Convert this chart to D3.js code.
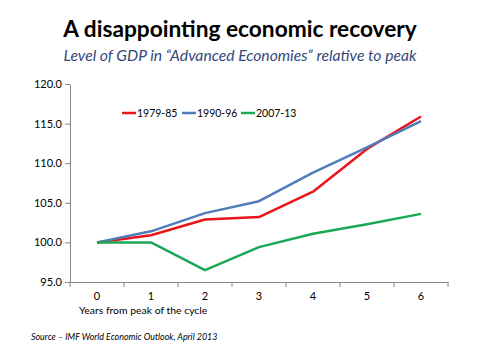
<!DOCTYPE html>
<html><head><meta charset="utf-8">
<script src="https://cdn.jsdelivr.net/npm/d3@7"></script>
<style>
body{margin:0;background:#fff;}
svg{display:block;}
text{font-family:Lato,"Open Sans",sans-serif;}
</style></head>
<body>
<svg id="c" width="480" height="360"></svg>
<script>
const years = [0,1,2,3,4,5,6];
const series79 = [100.0,100.9,102.9,103.2,106.4,111.8,115.9];
const series90 = [100.0,101.4,103.7,105.2,108.8,112.0,115.3];
const series07 = [100.0,100.0,96.5,99.4,101.1,102.3,103.6];
const seriesNames = ["1979-85","1990-96","2007-13"];
const seriesColors = ["#E8151B","#4F7DB8","#1BA856"];
const yTicks = [95,100,105,110,115,120];

(function(){
const svg = d3.select("#c");
const pL=70, pR=448, pT=84, pB=282;

const x = d3.scaleBand().domain(years).range([pL,pR]);
const y = d3.scaleLinear().domain([95,120]).range([pB,pT]);

// title
svg.append("text").attr("x",240).attr("y",37).attr("text-anchor","middle")
  .attr("font-size",22.7).attr("font-weight","bold").attr("fill","#000")
  .text("A disappointing economic recovery");
svg.append("text").attr("x",240).attr("y",61).attr("text-anchor","middle")
  .attr("font-size",15.7).attr("font-style","italic").attr("fill","#34497A")
  .text("Level of GDP in “Advanced Economies” relative to peak");

// y axis
const yAxis = d3.axisLeft(y).tickValues(yTicks).tickFormat(d3.format(".1f")).tickSize(5).tickSizeOuter(0);
const gy = svg.append("g").attr("transform",`translate(${pL},0)`).call(yAxis);
gy.select(".domain").attr("stroke","#868686");
gy.selectAll(".tick line").attr("stroke","#868686");
gy.selectAll(".tick text").attr("font-size",11).attr("fill","#000").attr("x",-8).attr("font-family","Lato,sans-serif");

// x axis
const xAxis = d3.axisBottom(x).tickSize(0).tickSizeOuter(0).tickPadding(10);
const gx = svg.append("g").attr("transform",`translate(0,${pB})`).call(xAxis);
gx.select(".domain").attr("stroke","#868686");
gx.selectAll(".tick text").attr("font-size",11).attr("fill","#000").attr("font-family","Lato,sans-serif");
const bounds = years.map(d=>x(d)).concat([x(years[years.length-1])+x.bandwidth()]);
gx.selectAll("line.bt").data(bounds).enter().append("line").attr("class","bt")
  .attr("x1",d=>d).attr("x2",d=>d).attr("y1",0).attr("y2",5).attr("stroke","#868686");

svg.append("text").attr("x",79).attr("y",314).attr("font-size",10.4).attr("fill","#000")
  .text("Years from peak of the cycle");

svg.append("text").attr("x",31).attr("y",340).attr("font-size",8.9).attr("font-style","italic").attr("fill","#000")
  .text("Source – IMF World Economic Outlook, April 2013");

// lines
const data = [series79, series90, series07];
const line = d3.line().x((d,i)=>x(years[i])+x.bandwidth()/2).y(d=>y(d));
svg.selectAll("path.s").data(data).enter().append("path").attr("class","s")
  .attr("d",line).attr("fill","none").attr("stroke",(d,i)=>seriesColors[i])
  .attr("stroke-width",2.5).attr("stroke-linejoin","round");

// legend
const legX = [122,182,241];
const lg = svg.selectAll("g.leg").data(seriesNames).enter().append("g").attr("class","leg")
  .attr("transform",(d,i)=>`translate(${legX[i]},113)`);
lg.append("line").attr("x1",0).attr("x2",14).attr("y1",0).attr("y2",0)
  .attr("stroke",(d,i)=>seriesColors[i]).attr("stroke-width",2.5);
lg.append("text").attr("x",15).attr("y",4).attr("font-size",10.5).attr("fill","#000").text(d=>d);
})();
</script>
</body></html>
